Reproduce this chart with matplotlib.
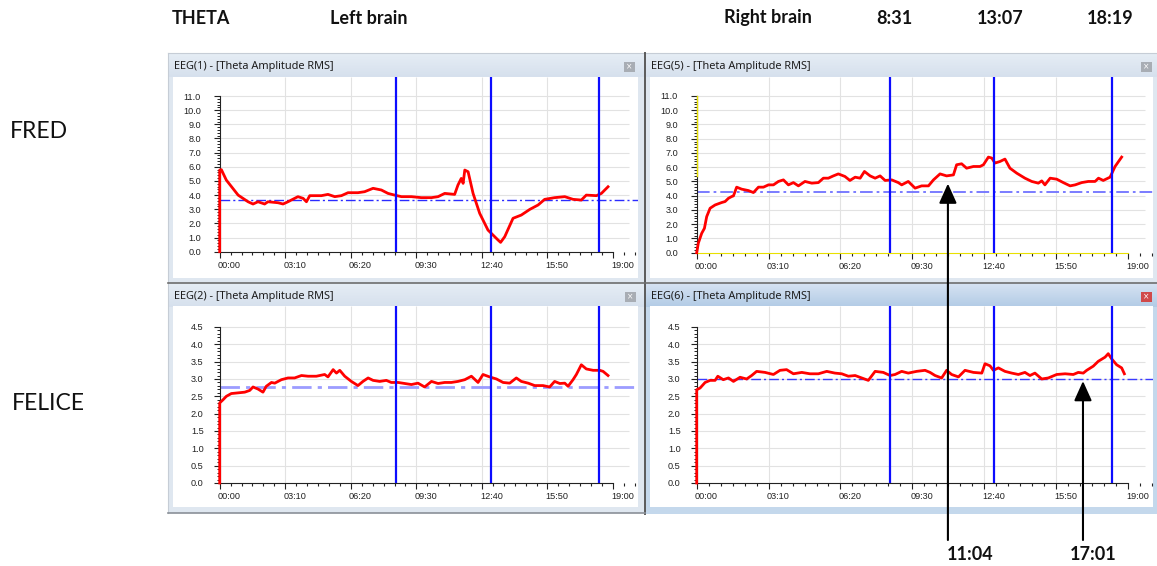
import matplotlib
matplotlib.use('Agg')
import matplotlib.pyplot as plt
import matplotlib.transforms as mtransforms
from matplotlib.patches import Rectangle
import numpy as np

# ---------------- data ----------------
def mmss(s):
    m, sec = s.split(':')
    return int(m) + int(sec) / 60.0

marker_labels = ["8:31", "13:07", "18:19"]
marker_times = [mmss(s) for s in marker_labels]
arrow_labels = ["11:04", "17:01"]
arrow_times = [mmss(s) for s in arrow_labels]
arrow_tip_values = [4.85, 2.94]

panel_titles = ["EEG(1) - [Theta Amplitude RMS]", "EEG(5) - [Theta Amplitude RMS]",
                "EEG(2) - [Theta Amplitude RMS]", "EEG(6) - [Theta Amplitude RMS]"]
row_labels = ["FRED", "FELICE"]
header_labels = ["THETA", "Left brain", "Right brain"] + marker_labels

baselines = [3.63, 4.29, 2.78, 3.01]

fred_left_t = [0, 0, 0.08, 0.32, 0.89, 1.37, 1.61, 1.85, 2.17, 2.33, 2.82, 3.06, 3.30, 3.78, 4.03,
               4.19, 4.35, 4.91, 5.23, 5.56, 5.88, 6.20, 6.68, 7.00, 7.41, 7.81, 8.13, 8.45, 8.78,
               9.26, 9.74, 10.23, 10.55, 10.87, 11.35, 11.51, 11.67, 11.76, 11.84, 12.00, 12.24,
               12.56, 12.96, 13.45, 13.57, 13.77, 14.17, 14.57, 14.98, 15.38, 15.70, 16.18, 16.67,
               17.07, 17.47, 17.71, 18.20, 18.44, 18.76]
fred_left_v = [0, 5.77, 5.80, 5.06, 4.0, 3.53, 3.37, 3.53, 3.37, 3.53, 3.46, 3.37, 3.53, 3.89, 3.77,
               3.53, 3.96, 3.96, 4.05, 3.89, 3.96, 4.17, 4.17, 4.24, 4.48, 4.36, 4.12, 4.0, 3.89,
               3.89, 3.82, 3.82, 3.89, 4.12, 4.05, 4.71, 5.18, 4.83, 5.77, 5.65, 4.12,
               2.71, 1.53, 0.82, 0.66, 1.06, 2.36, 2.59, 2.99, 3.30, 3.70, 3.82, 3.89,
               3.70, 3.65, 4.0, 3.96, 4.12, 4.59]

fred_right_t = [0, 0.07, 0.22, 0.34, 0.44, 0.59, 0.81, 1.10, 1.25, 1.40, 1.54, 1.62, 1.76, 1.98,
                2.28, 2.50, 2.72, 2.94, 3.16, 3.38, 3.60, 3.82, 4.04, 4.26, 4.48, 4.77, 5.07, 5.36,
                5.58, 5.80, 6.02, 6.24, 6.53, 6.75, 6.98, 7.20, 7.39, 7.64, 7.86, 8.08, 8.30, 8.59,
                8.88, 9.03, 9.32, 9.62, 9.91, 10.21, 10.43, 10.72, 11.01, 11.31, 11.45, 11.67,
                11.89, 12.19, 12.48, 12.63, 12.85, 13.00, 13.14, 13.36, 13.58, 13.80, 14.10,
                14.46, 14.76, 15.05, 15.20, 15.34, 15.57, 15.86, 16.15, 16.45, 16.67, 16.96,
                17.25, 17.55, 17.70, 17.91, 18.21, 18.43, 18.72]
fred_right_v = [0, 0.66, 1.36, 1.71, 2.53, 3.12, 3.35, 3.52, 3.59, 3.82, 3.94, 3.99, 4.60, 4.46,
                4.36, 4.22, 4.60, 4.60, 4.76, 4.76, 5.0, 5.11, 4.76, 4.92, 4.69, 5.0, 4.88, 4.92,
                5.23, 5.23, 5.39, 5.53, 5.35, 5.07, 5.30, 5.23, 5.70, 5.39, 5.23, 5.39, 5.07, 5.11,
                4.92, 4.76, 5.0, 4.53, 4.69, 4.69, 5.11, 5.53, 5.39, 5.46, 6.17, 6.24,
                5.93, 6.05, 6.05, 6.17, 6.71, 6.64, 6.29, 6.40, 6.57, 5.93, 5.58,
                5.23, 5.0, 4.88, 5.04, 4.76, 5.23, 5.16, 4.92, 4.69, 4.76, 4.92,
                5.0, 5.0, 5.23, 5.07, 5.30, 6.05, 6.71]

felice_left_t = [0, 0, 0.16, 0.32, 0.56, 0.89, 1.21, 1.45, 1.61, 1.85, 2.09, 2.25, 2.50, 2.66, 2.98,
                 3.30, 3.62, 3.95, 4.27, 4.67, 5.07, 5.23, 5.48, 5.64, 5.80, 6.04, 6.36, 6.68, 6.92,
                 7.17, 7.41, 7.73, 8.05, 8.29, 8.62, 8.94, 9.26, 9.58, 9.90, 10.23, 10.55, 10.87,
                 11.19, 11.51, 11.84, 12.16, 12.48, 12.72, 13.04, 13.37, 13.69, 14.01, 14.33, 14.57,
                 14.90, 15.22, 15.62, 15.94, 16.18, 16.43, 16.67, 16.83, 17.07, 17.23, 17.47, 17.71,
                 18.04, 18.36, 18.52, 18.76]
felice_left_v = [0, 2.31, 2.40, 2.50, 2.58, 2.60, 2.62, 2.67, 2.77, 2.71, 2.62, 2.79, 2.90, 2.88, 2.98,
                 3.03, 3.03, 3.10, 3.08, 3.08, 3.13, 3.06, 3.27, 3.17, 3.25, 3.08, 2.93, 2.81, 2.93,
                 3.03, 2.96, 2.93, 2.96, 2.90, 2.90, 2.87, 2.84, 2.88, 2.77, 2.93, 2.87, 2.90,
                 2.90, 2.93, 2.98, 3.08, 2.90, 3.13, 3.06, 3.0, 2.90, 2.88, 3.03, 2.93,
                 2.88, 2.81, 2.81, 2.77, 2.93, 2.87, 2.88, 2.79, 2.98, 3.13, 3.41, 3.29,
                 3.25, 3.25, 3.22, 3.10]

felice_right_t = [0, 0, 0.15, 0.37, 0.59, 0.81, 0.93, 1.17, 1.40, 1.62, 1.91, 2.20, 2.42, 2.64, 3.01,
                  3.38, 3.67, 3.96, 4.26, 4.63, 4.99, 5.36, 5.73, 6.09, 6.39, 6.68, 6.98, 7.27, 7.56,
                  7.86, 8.22, 8.52, 8.74, 9.03, 9.32, 9.69, 10.06, 10.28, 10.50, 10.79, 11.01, 11.23,
                  11.53, 11.82, 12.19, 12.56, 12.70, 12.92, 13.07, 13.29, 13.58, 13.88, 14.17, 14.46,
                  14.68, 14.90, 15.20, 15.49, 15.86, 16.23, 16.59, 16.81, 17.03, 17.18, 17.47, 17.69,
                  17.99, 18.13, 18.28, 18.50, 18.72, 18.84]
felice_right_v = [0, 2.69, 2.74, 2.90, 2.96, 2.96, 3.08, 2.98, 3.03, 2.93, 3.05, 3.0, 3.10, 3.22, 3.19,
                  3.13, 3.25, 3.27, 3.15, 3.19, 3.15, 3.15, 3.22, 3.17, 3.15, 3.08, 3.10, 3.03, 2.96,
                  3.22, 3.19, 3.10, 3.13, 3.22, 3.17, 3.22, 3.25, 3.19, 3.10, 3.03, 3.25, 3.13,
                  3.06, 3.25, 3.19, 3.17, 3.44, 3.38, 3.25, 3.32, 3.22, 3.17, 3.13, 3.19,
                  3.10, 3.17, 3.0, 3.03, 3.13, 3.15, 3.13, 3.19, 3.17, 3.25, 3.37, 3.51,
                  3.63, 3.73, 3.58, 3.41, 3.32, 3.15]

series_t = [fred_left_t, fred_right_t, felice_left_t, felice_right_t]
series_v = [fred_left_v, fred_right_v, felice_left_v, felice_right_v]

# ---------------- figure ----------------
W, H = 1157, 566
fig = plt.figure(figsize=(W / 100, H / 100), dpi=100)
fig.patch.set_facecolor('white')

bg = fig.add_axes([0, 0, 1, 1], zorder=0)
bg.set_xlim(0, W); bg.set_ylim(H, 0); bg.axis('off')

windows = [(168, 644, 53, 283, False), (645, 1157, 53, 283, False),
           (168, 644, 283, 513, False), (645, 1157, 283, 514, True)]
for (x0, x1, y0, y1, active) in windows:
    frame = '#c4d8ec' if active else '#dfe7f0'
    bg.add_patch(Rectangle((x0, y0), x1 - x0, y1 - y0, facecolor=frame, edgecolor='none'))
    top_c = np.array([0.84, 0.89, 0.95]) if active else np.array([0.90, 0.93, 0.96])
    bot_c = np.array([0.70, 0.80, 0.90]) if active else np.array([0.84, 0.88, 0.93])
    grad = np.linspace(0, 1, 24)[:, None, None] * (bot_c - top_c) + top_c
    grad = np.repeat(grad, 2, axis=1)
    bg.imshow(grad, extent=(x0, x1, y0 + 24, y0), aspect='auto', zorder=1, interpolation='bilinear')
bg.set_xlim(0, W); bg.set_ylim(H, 0)

plot_areas = [(173, 638, 77, 278), (650, 1153, 77, 278), (173, 638, 306, 507), (650, 1153, 306, 507)]
for (x0, x1, y0, y1) in plot_areas:
    bg.add_patch(Rectangle((x0, y0), x1 - x0, y1 - y0, facecolor='white', edgecolor='none', zorder=2))

bg.plot([168, 1157], [53, 53], color='#c6cdd6', lw=0.8, zorder=3)
bg.plot([168, 168], [53, 513], color='#c6cdd6', lw=0.8, zorder=3)
bg.plot([644.5, 644.5], [53, 514], color='#5a5a5a', lw=1.4, zorder=3)
bg.plot([168, 1157], [283, 283], color='#6e6e6e', lw=1.2, zorder=3)
bg.plot([168, 645], [513, 513], color='#8a9098', lw=1.2, zorder=3)

buttons = [(624, 62, '#a8adb4'), (1141, 62, '#a8adb4'), (625, 292, '#a8adb4'), (1141, 292, '#d0494a')]
for (bx, by, bc) in buttons:
    bg.add_patch(Rectangle((bx, by), 11, 10, facecolor=bc, edgecolor='none', zorder=4))
    bg.text(bx + 5.5, by + 5, '×', color='white', fontsize=5.5, ha='center', va='center',
            zorder=5, family='DejaVu Sans')

title_pos = [(174, 66), (651, 66), (174, 296), (651, 296)]
for (tx, ty), tt in zip(title_pos, panel_titles):
    bg.text(tx, ty, tt, fontsize=7.9, family='Noto Sans', va='center', ha='left',
            color='#1e1e1e', zorder=5)

# ---------------- panels ----------------
geoms = [(173, 638, 77, 278, 219.7, 251.7, 20.7, 14.15, 11.0, 1.0),
         (650, 1153, 77, 278, 696.7, 252.7, 22.7, 14.25, 11.0, 1.0),
         (173, 638, 306, 507, 219.7, 483.0, 20.7, 34.67, 4.5, 0.5),
         (650, 1153, 306, 507, 696.7, 483.0, 22.7, 34.67, 4.5, 0.5)]
base_styles = [dict(color='#2b2bff', lw=1.0), dict(color='#6f72ff', lw=1.3),
               dict(color='#9c9cff', lw=2.0), dict(color='#3a3aff', lw=1.0)]

tick_font = dict(family='Liberation Sans', size=6.6)
major_t = np.arange(0, 19.001, 19 / 6)
axes = []
for i, (l, r, t, b, x0, y0, ppm, ppu, ymax, ystep) in enumerate(geoms):
    ax = fig.add_axes([l / W, 1 - b / H, (r - l) / W, (b - t) / H], zorder=2)
    ax.set_facecolor('none')
    xlo, xhi = (l - x0) / ppm, (r - x0) / ppm
    ylo, yhi = (y0 - b) / ppu, (y0 - t) / ppu
    ax.set_xlim(xlo, xhi); ax.set_ylim(ylo, yhi)
    for s in ['top', 'right']:
        ax.spines[s].set_visible(False)
    ax.spines['left'].set_position(('data', 0))
    ax.spines['bottom'].set_position(('data', 0))
    ax.spines['left'].set_bounds(0, ymax)
    ax.spines['bottom'].set_bounds(0, 19)
    for s in ['left', 'bottom']:
        ax.spines[s].set_color('#222222'); ax.spines[s].set_linewidth(0.8)

    yt = np.arange(0, ymax + 1e-6, ystep)
    ax.set_xticks(major_t)
    ax.set_xticklabels([f"{int(round(m * 60)) // 60:02d}:{int(round(m * 60)) % 60:02d}" for m in major_t],
                       fontdict=tick_font)
    ax.set_xticks(np.arange(0, xhi, 19 / 36), minor=True)
    ax.set_yticks(yt)
    ax.set_yticklabels([f"{v:.1f}" for v in yt], fontdict=tick_font)
    ax.set_yticks(np.arange(0, ymax + 1e-6, ystep / 5), minor=True)
    ax.tick_params(axis='x', which='major', length=4, width=0.8, pad=2.5, colors='#222222')
    ax.tick_params(axis='x', which='minor', length=2, width=0.8, colors='#222222')
    ax.tick_params(axis='y', which='major', length=4, width=0.8,
                   pad=9.5 if ymax > 5 else 7.5, colors='#222222')
    ax.tick_params(axis='y', which='minor', length=2, width=0.7, colors='#222222')
    off = mtransforms.ScaledTranslation(-2 / 100, 0, fig.dpi_scale_trans)
    for lab in ax.get_xticklabels():
        lab.set_ha('left')
        lab.set_transform(lab.get_transform() + off)

    ax.vlines(major_t[1:-1], 0, yhi, color='#e2e2e2', lw=0.8, zorder=1)
    ax.hlines(yt[1:], 0, 19.75, color='#e2e2e2', lw=0.8, zorder=1)

    ax.hlines(baselines[i], 0, xhi, linestyles=[(0, (7, 2.2, 1.5, 2.2))], zorder=2,
              **base_styles[i])
    ax.plot(series_t[i], series_v[i], color='#ff0000', lw=2.0, zorder=4,
            solid_joinstyle='round', clip_on=False)
    ax.vlines(marker_times, 0, yhi, color='#0c0cff', lw=1.6, zorder=5)
    axes.append(ax)

ax2 = axes[1]
ax2.spines['bottom'].set_color('#e8e000')
ax2.plot([0, 0], [5.35, 11.0], color='#e8e000', lw=1.0, zorder=3, clip_on=False)

# ---------------- overlay text & arrows ----------------
ov = fig.add_axes([0, 0, 1, 1], zorder=10)
ov.set_xlim(0, W); ov.set_ylim(H, 0); ov.axis('off')
ov.patch.set_alpha(0)

hdr_x = [201, 369, 768, 894, 1000, 1110]
for hx, ht in zip(hdr_x, header_labels):
    ov.text(hx, 18, ht, fontsize=13, family='Lato', weight='bold', ha='center', va='center',
            color='#111111')
for (rx, ry), rt in zip([(39, 132), (48, 404)], row_labels):
    ov.text(rx, ry, rt, fontsize=16.5, family='Lato', ha='center', va='center', color='#111111')

arrow_axes = [axes[1], axes[3]]
label_x = [970, 1093]
for axa, at, av, lx, lt in zip(arrow_axes, arrow_times, arrow_tip_values, label_x, arrow_labels):
    tr = mtransforms.blended_transform_factory(axa.transData, ov.transData)
    ov.annotate('', xy=(at, av), xycoords=axa.transData, xytext=(at, 540), textcoords=tr,
                arrowprops=dict(arrowstyle='-|>,head_length=1.0,head_width=0.45', mutation_scale=12,
                                color='black', lw=1.5, shrinkA=0, shrinkB=0),
                annotation_clip=False)
    ov.text(lx, 555, lt, fontsize=13, family='Lato', weight='bold', ha='center', va='center',
            color='#111111')

fig.savefig('out.png', dpi=100)
